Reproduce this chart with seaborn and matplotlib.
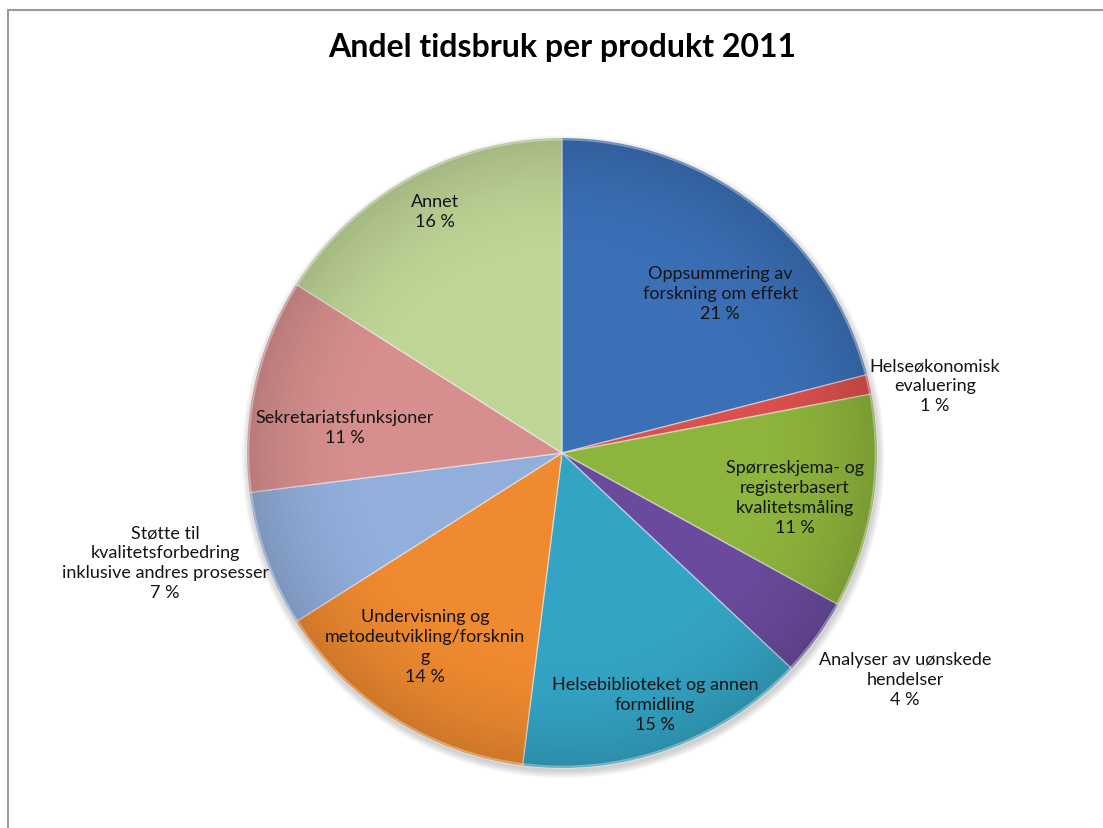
import numpy as np
import matplotlib
matplotlib.use("Agg")
import matplotlib.pyplot as plt
from matplotlib.patches import Circle
import seaborn as sns

# Share of time spent per product, 2011 (percent), clockwise from 12 o'clock
products = [
    "Oppsummering av\nforskning om effekt",
    "Helseøkonomisk\nevaluering",
    "Spørreskjema- og\nregisterbasert\nkvalitetsmåling",
    "Analyser av uønskede\nhendelser",
    "Helsebiblioteket og annen\nformidling",
    "Undervisning og\nmetodeutvikling/forsknin\ng",
    "Støtte til\nkvalitetsforbedring\ninklusive andres prosesser",
    "Sekretariatsfunksjoner",
    "Annet",
]
shares = [21, 1, 11, 4, 15, 14, 7, 11, 16]

slice_colors = [
    "#3B6FB6", "#D9504C", "#8DB43C", "#6A4A9C", "#34A4C4",
    "#EF8A30", "#92AEDB", "#D68F8E", "#BFD596",
]

# label anchor points in pie-radius units (centre = 0,0)
label_pos = [
    (0.502, 0.508), (1.184, 0.216), (0.740, -0.140), (1.089, -0.717),
    (0.295, -0.797), (-0.435, -0.613), (-1.260, -0.346), (-0.689, 0.083),
    (-0.403, 0.768),
]

sns.set_theme(style="white")
plt.rcParams["font.family"] = ["Lato", "DejaVu Sans"]

W, H, DPI = 1103, 829, 100
R_PX, CX, CY = 315.0, 562.0, 454.0  # pie radius and centre in pixels (from top-left)

fig = plt.figure(figsize=(W / DPI, H / DPI), dpi=DPI)
fig.patch.set_facecolor("white")
ax = fig.add_axes([0, 0, 1, 1])

palette = sns.color_palette(slice_colors)

wedges, _ = ax.pie(
    shares,
    colors=palette,
    startangle=90,
    counterclock=False,
    radius=1.0,
    wedgeprops=dict(edgecolor=(1, 1, 1, 0.45), linewidth=1.0),
)
for w in wedges:
    w.set_zorder(1)

# soft drop shadow under the pie
for k in range(6):
    ax.add_patch(Circle((0.004, -0.012), 1.0 + 0.004 * k, color="black",
                        alpha=0.03, zorder=0.5, lw=0))

# radial shading: slightly darker towards the rim, lighter in the middle
n = 600
g = np.linspace(-1, 1, n)
xx, yy = np.meshgrid(g, g)
rr = np.sqrt(xx ** 2 + yy ** 2)
shade = np.zeros((n, n, 4))
shade[..., 3] = np.clip((rr - 0.6) / 0.4, 0, 1) ** 2 * 0.14
img = ax.imshow(shade, extent=(-1, 1, -1, 1), origin="lower", zorder=2,
                interpolation="bilinear")
img.set_clip_path(Circle((0, 0), 1.0, transform=ax.transData))

# thin highlight along the rim
ax.add_patch(Circle((0, 0), 0.995, fill=False, ec=(1, 1, 1, 0.35), lw=1.2,
                    zorder=3))

for name, val, (lx, ly) in zip(products, shares, label_pos):
    ax.text(lx, ly, f"{name}\n{val} %", ha="center", va="center",
            fontsize=13, color="#141414", linespacing=1.3, zorder=5)

# fix the view after pie() so the centre lands where intended
ax.set_xlim(-CX / R_PX, (W - CX) / R_PX)
ax.set_ylim(-(H - CY) / R_PX, CY / R_PX)
ax.set_aspect("auto")
ax.axis("off")

fig.text(CX / W, 1 - 48 / H, "Andel tidsbruk per produkt 2011",
         ha="center", va="center", fontsize=23, fontweight="bold",
         color="black")

# chart frame (top and left edges)
fig.add_artist(plt.Line2D([8 / W, 1], [1 - 11 / H, 1 - 11 / H],
                          transform=fig.transFigure, color="#9A9A9A", lw=1.5))
fig.add_artist(plt.Line2D([8 / W, 8 / W], [0, 1 - 11 / H],
                          transform=fig.transFigure, color="#9A9A9A", lw=1.5))

fig.savefig("out.png", dpi=DPI, facecolor="white")
